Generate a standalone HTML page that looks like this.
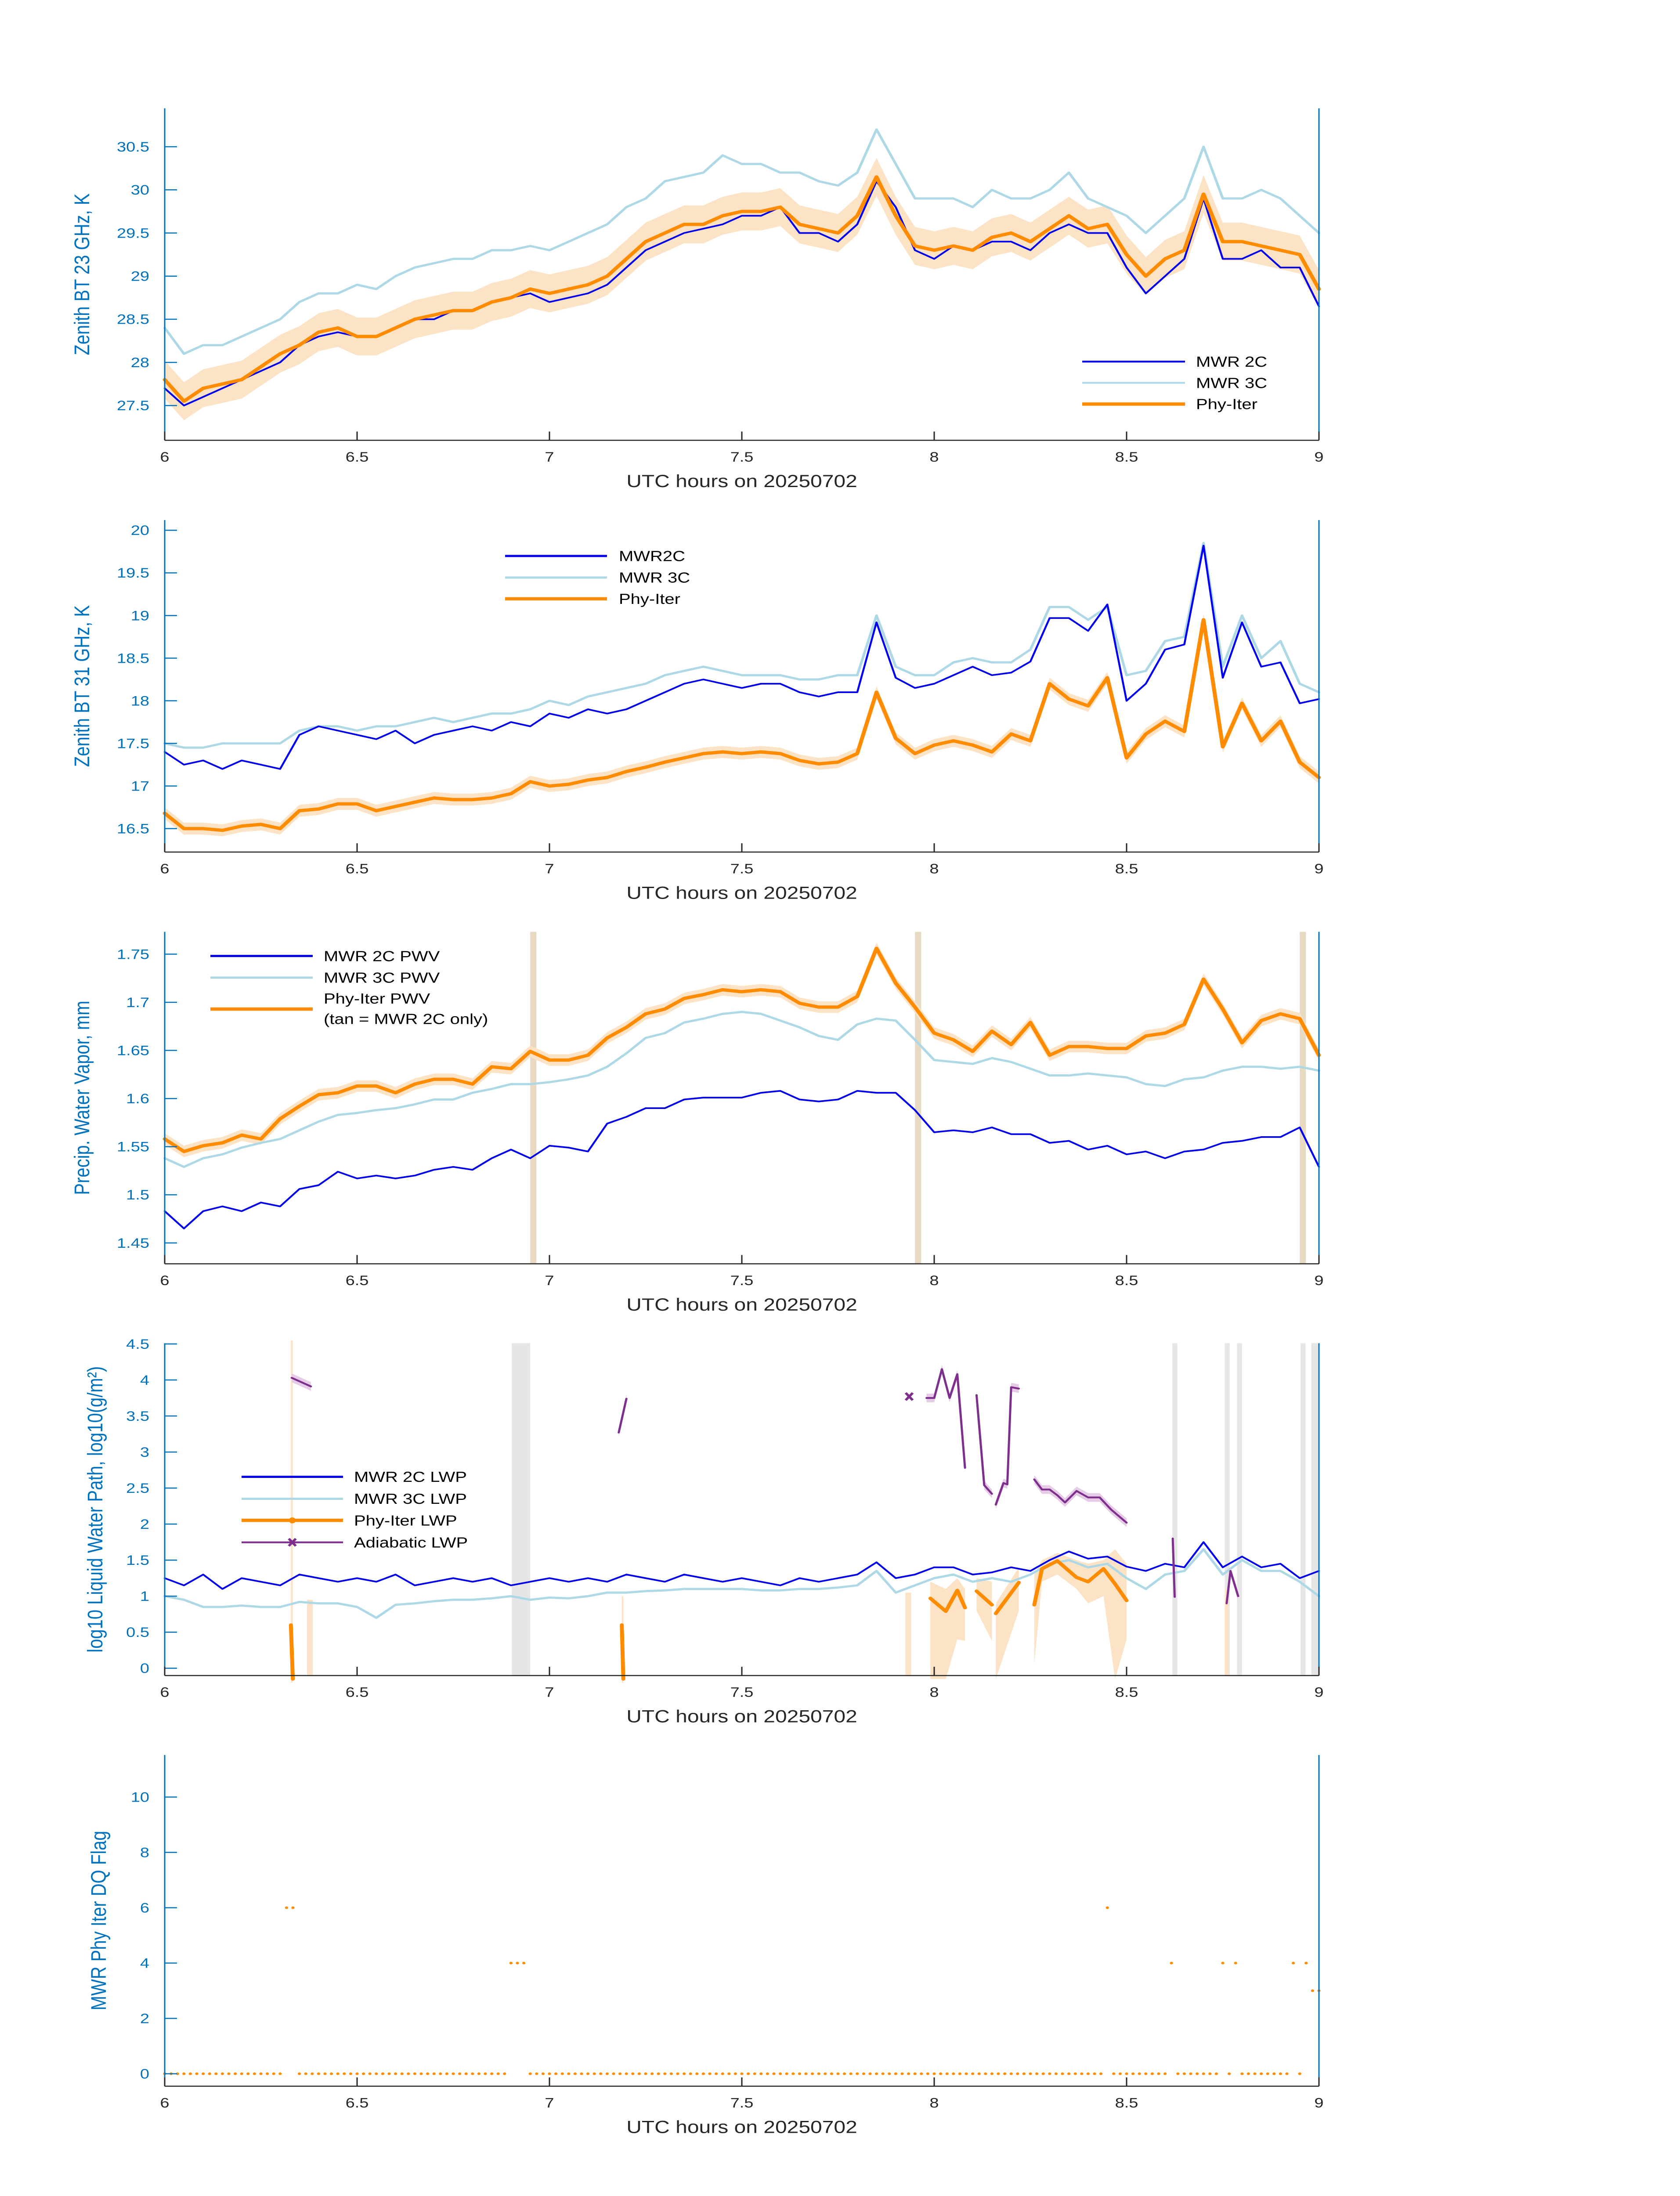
<!DOCTYPE html>
<html><head><meta charset="utf-8"><style>
html,body{margin:0;padding:0;background:#fff;width:100vw;height:100vh;overflow:hidden;}
svg{display:block;width:100vw;height:100vh;font-family:"Liberation Sans",sans-serif;}
</style></head><body>
<svg id="chart" xmlns="http://www.w3.org/2000/svg" viewBox="0 0 3825 6000" preserveAspectRatio="none">
<rect x="0" y="0" width="3825" height="6000" fill="#ffffff"/>
<g id="layer"></g>
</svg>
<script>
// ---------- shared data ----------
const xTicks = [6, 6.5, 7, 7.5, 8, 8.5, 9];
const xTickLabels = ["6", "6.5", "7", "7.5", "8", "8.5", "9"];

// Panel 1: 23 GHz BT
const bt23Mwr2c = [27.7,27.5,27.6,27.7,27.8,27.9,28.0,28.2,28.3,28.35,28.3,28.3,28.4,28.5,28.5,28.6,28.6,28.7,28.75,28.8,28.7,28.75,28.8,28.9,29.1,29.3,29.4,29.5,29.55,29.6,29.7,29.7,29.8,29.5,29.5,29.4,29.6,30.1,29.8,29.3,29.2,29.35,29.3,29.4,29.4,29.3,29.5,29.6,29.5,29.5,29.1,28.8,29.0,29.2,29.9,29.2,29.2,29.3,29.1,29.1,28.65];
const bt23Mwr3c = [28.4,28.1,28.2,28.2,28.3,28.4,28.5,28.7,28.8,28.8,28.9,28.85,29.0,29.1,29.15,29.2,29.2,29.3,29.3,29.35,29.3,29.4,29.5,29.6,29.8,29.9,30.1,30.15,30.2,30.4,30.3,30.3,30.2,30.2,30.1,30.05,30.2,30.7,30.3,29.9,29.9,29.9,29.8,30.0,29.9,29.9,30.0,30.2,29.9,29.8,29.7,29.5,29.7,29.9,30.5,29.9,29.9,30.0,29.9,29.7,29.5];
const bt23Phy = [27.8,27.55,27.7,27.75,27.8,27.95,28.1,28.2,28.35,28.4,28.3,28.3,28.4,28.5,28.55,28.6,28.6,28.7,28.75,28.85,28.8,28.85,28.9,29.0,29.2,29.4,29.5,29.6,29.6,29.7,29.75,29.75,29.8,29.6,29.55,29.5,29.7,30.15,29.7,29.35,29.3,29.35,29.3,29.45,29.5,29.4,29.55,29.7,29.55,29.6,29.25,29.0,29.2,29.3,29.95,29.4,29.4,29.35,29.3,29.25,28.85];
const bt23PhyUnc = 0.22;
const bt23Ticks = [27.5, 28, 28.5, 29, 29.5, 30, 30.5];
const bt23TickLabels = ["27.5","28","28.5","29","29.5","30","30.5"];

// Panel 2: 31 GHz BT
const bt31Mwr2c = [17.4,17.25,17.3,17.2,17.3,17.25,17.2,17.6,17.7,17.65,17.6,17.55,17.65,17.5,17.6,17.65,17.7,17.65,17.75,17.7,17.85,17.8,17.9,17.85,17.9,18.0,18.1,18.2,18.25,18.2,18.15,18.2,18.2,18.1,18.05,18.1,18.1,18.92,18.27,18.15,18.2,18.3,18.4,18.3,18.33,18.46,18.97,18.97,18.82,19.13,18.0,18.2,18.6,18.66,19.82,18.27,18.92,18.4,18.45,17.97,18.02];
const bt31Mwr3c = [17.5,17.45,17.45,17.5,17.5,17.5,17.5,17.65,17.7,17.7,17.65,17.7,17.7,17.75,17.8,17.75,17.8,17.85,17.85,17.9,18.0,17.95,18.05,18.1,18.15,18.2,18.3,18.35,18.4,18.35,18.3,18.3,18.3,18.25,18.25,18.3,18.3,19.0,18.4,18.3,18.3,18.45,18.5,18.45,18.45,18.6,19.1,19.1,18.95,19.1,18.3,18.35,18.7,18.75,19.85,18.4,19.0,18.5,18.7,18.2,18.1];
const bt31Phy = [16.68,16.5,16.5,16.48,16.53,16.55,16.5,16.71,16.73,16.79,16.79,16.71,16.76,16.81,16.86,16.84,16.84,16.86,16.91,17.05,17.0,17.02,17.07,17.1,17.17,17.22,17.28,17.33,17.38,17.4,17.38,17.4,17.38,17.3,17.26,17.28,17.38,18.1,17.56,17.38,17.48,17.53,17.48,17.4,17.61,17.53,18.2,18.02,17.94,18.27,17.33,17.61,17.76,17.64,18.95,17.46,17.97,17.53,17.76,17.28,17.1];
const bt31PhyUnc = 0.07;
const bt31Ticks = [16.5,17,17.5,18,18.5,19,19.5,20];
const bt31TickLabels = ["16.5","17","17.5","18","18.5","19","19.5","20"];

// Panel 3: PWV
const pwvMwr2c = [1.483,1.465,1.483,1.488,1.483,1.492,1.488,1.506,1.51,1.524,1.517,1.52,1.517,1.52,1.526,1.529,1.526,1.538,1.547,1.538,1.551,1.549,1.545,1.574,1.581,1.59,1.59,1.599,1.601,1.601,1.601,1.606,1.608,1.599,1.597,1.599,1.608,1.606,1.606,1.588,1.565,1.567,1.565,1.57,1.563,1.563,1.554,1.556,1.547,1.551,1.542,1.545,1.538,1.545,1.547,1.554,1.556,1.56,1.56,1.57,1.529];
const pwvMwr3c = [1.538,1.529,1.538,1.542,1.549,1.554,1.558,1.567,1.576,1.583,1.585,1.588,1.59,1.594,1.599,1.599,1.606,1.61,1.615,1.615,1.617,1.62,1.624,1.633,1.647,1.663,1.668,1.679,1.683,1.688,1.69,1.688,1.681,1.674,1.665,1.661,1.677,1.683,1.681,1.661,1.64,1.638,1.636,1.642,1.638,1.631,1.624,1.624,1.626,1.624,1.622,1.615,1.613,1.62,1.622,1.629,1.633,1.633,1.631,1.633,1.629];
const pwvPhy = [1.558,1.545,1.551,1.554,1.562,1.558,1.579,1.592,1.604,1.606,1.613,1.613,1.606,1.615,1.62,1.62,1.615,1.633,1.631,1.649,1.64,1.64,1.645,1.663,1.674,1.688,1.693,1.704,1.708,1.713,1.711,1.713,1.711,1.699,1.695,1.695,1.706,1.756,1.72,1.695,1.668,1.661,1.649,1.67,1.656,1.679,1.645,1.654,1.654,1.652,1.652,1.665,1.668,1.677,1.724,1.693,1.658,1.681,1.688,1.683,1.645];
const pwvPhyUnc = 0.006;
const pwvTanTimes = [6.958, 7.958, 8.958];
const pwvTicks = [1.45,1.5,1.55,1.6,1.65,1.7,1.75];
const pwvTickLabels = ["1.45","1.5","1.55","1.6","1.65","1.7","1.75"];

// Panel 4: LWP (log10)
const lwpMwr2c = [1.25,1.15,1.3,1.1,1.25,1.2,1.15,1.3,1.25,1.2,1.25,1.2,1.3,1.15,1.2,1.25,1.2,1.25,1.15,1.2,1.25,1.2,1.25,1.2,1.3,1.25,1.2,1.3,1.25,1.2,1.25,1.2,1.15,1.25,1.2,1.25,1.3,1.47,1.25,1.3,1.4,1.4,1.3,1.33,1.4,1.35,1.5,1.62,1.52,1.55,1.41,1.35,1.45,1.4,1.75,1.4,1.55,1.4,1.45,1.25,1.35];
const lwpMwr3c = [1.0,0.95,0.85,0.85,0.87,0.85,0.85,0.92,0.9,0.9,0.85,0.7,0.88,0.9,0.93,0.95,0.95,0.97,1.0,0.95,0.98,0.97,1.0,1.05,1.05,1.07,1.08,1.1,1.1,1.1,1.1,1.08,1.08,1.1,1.1,1.12,1.15,1.35,1.05,1.15,1.25,1.3,1.2,1.25,1.2,1.3,1.45,1.5,1.4,1.45,1.25,1.1,1.3,1.35,1.65,1.3,1.5,1.35,1.35,1.2,1.0];
const lwpPhyT = [6.328,6.333,6.4,7.188,7.192,7.3,7.99,8.03,8.06,8.08,8.095,8.11,8.15,8.155,8.16,8.22,8.24,8.26,8.28,8.32,8.37,8.40,8.44,8.47,8.50];
const lwpPhyV = [0.6,-0.15,null,0.6,-0.15,null,0.97,0.79,1.08,0.84,null,1.07,0.88,null,0.76,1.19,null,0.88,1.38,1.49,1.26,1.2,1.38,1.17,0.94];
const lwpPhyLo = [-0.2,-0.2,null,-0.2,-0.2,null,-0.15,-0.15,0.4,0.38,null,0.8,0.38,null,-0.15,0.8,null,0.05,1.2,1.3,1.1,0.9,1.0,-0.15,0.4];
const lwpPhyHi = [4.55,4.55,null,1.0,1.0,null,1.2,1.1,1.25,1.1,null,1.25,1.2,null,0.9,1.4,null,1.3,1.5,1.6,1.5,1.45,1.5,1.65,1.45];
const lwpStripT0 = [6.37, 7.925, 8.755];
const lwpStripT1 = [6.385, 7.94, 8.765];
const lwpStripHi = [0.95, 1.05, 1.1];
const lwpAdiT = [6.33,6.38,null,7.18,7.2,null,7.98,8.0,8.02,8.04,8.06,8.08,null,8.11,8.13,8.15,null,8.16,8.18,8.19,8.2,8.22,null,8.26,8.28,8.3,8.32,8.34,8.37,8.4,8.43,8.46,8.5,null,8.62,8.625,null,8.76,8.77,8.79];
const lwpAdiV = [4.03,3.91,null,3.27,3.74,null,3.75,3.75,4.15,3.75,4.08,2.78,null,3.79,2.54,2.42,null,2.27,2.57,2.55,3.9,3.88,null,2.62,2.48,2.48,2.4,2.3,2.46,2.37,2.37,2.2,2.02,null,1.8,0.99,null,0.9,1.35,1.0];
const lwpAdiMarkT = [7.935];
const lwpAdiMarkV = [3.77];
const lwpGrayT0 = [6.902, 8.619, 8.755, 8.787, 8.952, 8.98];
const lwpGrayT1 = [6.95, 8.632, 8.768, 8.8, 8.965, 9.0];
const lwpTicks = [0,0.5,1,1.5,2,2.5,3,3.5,4,4.5];
const lwpTickLabels = ["0","0.5","1","1.5","2","2.5","3","3.5","4","4.5"];

// Panel 5: DQ flag, one sample per minute 6:00..9:00, as runs (value, count of minutes)
const dqRunValues  = [0, 6, 0, 4, 0, 6, 0, 4, 0, 4, 0, 4, 0, 4, 0, 4, 3];
const dqRunLengths = [19, 2, 33, 3, 90, 1, 9, 1, 7, 1, 1, 1, 8, 1, 1, 1, 2];
const dqTicks = [0,2,4,6,8,10];
const dqTickLabels = ["0","2","4","6","8","10"];

// ---------- geometry ----------
const NS = "http://www.w3.org/2000/svg";
const layer = document.getElementById("layer");
const X0 = 375, X1 = 3003, XK = 876;
function sx(t){ return X0 + (t - 6) * XK; }
const panels = [
 {top:296, bot:1203, v0:27.5, p0:1108, k:-235.7},
 {top:1421, bot:2328, v0:16.5, p0:2264, k:-232.9},
 {top:2546, bot:3453, v0:1.45, p0:3396, k:-2630},
 {top:3670, bot:4578, v0:0, p0:4558, k:-196.9},
 {top:4795, bot:5700, v0:0, p0:5666, k:-75.6}
];
function syF(p){ return v => p.p0 + (v - p.v0) * p.k; }
function mk(tag, attrs){ const e=document.createElementNS(NS,tag); for(const a in attrs) e.setAttribute(a,attrs[a]); return e; }
const gridT = [];
for(let i=0;i<=60;i++) gridT.push(6 + i*0.05);

function lineD(ts, vs, sy){
  let d="", pen=false;
  for(let i=0;i<ts.length;i++){
    if(vs[i]===null || ts[i]===null){ pen=false; continue; }
    d += (pen?"L":"M") + sx(ts[i]).toFixed(1) + " " + sy(vs[i]).toFixed(1) + " ";
    pen=true;
  }
  return d;
}
function bandD(ts, lo, hi, sy){
  let segs=[], cur=[];
  for(let i=0;i<ts.length;i++){
    if(lo[i]===null||hi[i]===null){ if(cur.length) segs.push(cur); cur=[]; continue; }
    cur.push(i);
  }
  if(cur.length) segs.push(cur);
  let d="";
  segs.forEach(s=>{
    const a=s.map(i=>sx(ts[i]).toFixed(1)+" "+sy(hi[i]).toFixed(1));
    const b=s.slice().reverse().map(i=>sx(ts[i]).toFixed(1)+" "+sy(lo[i]).toFixed(1));
    d += "M"+a.join(" L")+" L"+b.join(" L")+" Z ";
  });
  return d;
}

function drawAxes(pi, ticks, labels, ylabel, ylabelX, name){
  const p=panels[pi], sy=syF(p);
  const g=mk("g",{});
  
  
  layer.appendChild(g);
  g.appendChild(mk("line",{x1:X0,y1:p.top,x2:X0,y2:p.bot,stroke:"#0072BD","stroke-width":3}));
  g.appendChild(mk("line",{x1:X1,y1:p.top,x2:X1,y2:p.bot,stroke:"#0072BD","stroke-width":3}));
  g.appendChild(mk("line",{x1:X0,y1:p.bot,x2:X1,y2:p.bot,stroke:"#262626","stroke-width":3}));
  ticks.forEach((v,i)=>{
    const y=sy(v);
    g.appendChild(mk("line",{x1:X0,y1:y,x2:X0+28,y2:y,stroke:"#0072BD","stroke-width":3}));
    const t=mk("text",{x:340,y:y+13,"text-anchor":"end","font-size":38,fill:"#0072BD"});
    t.textContent=labels[i];
    
    
    g.appendChild(t);
  });
  xTicks.forEach((v,i)=>{
    const x=sx(v);
    g.appendChild(mk("line",{x1:x,y1:p.bot,x2:x,y2:p.bot-24,stroke:"#262626","stroke-width":3}));
    const t=mk("text",{x:x,y:p.bot+58,"text-anchor":"middle","font-size":38,fill:"#262626"});
    t.textContent=xTickLabels[i];
    
    
    g.appendChild(t);
  });
  const xl=mk("text",{x:(X0+X1)/2,y:p.bot+128,"text-anchor":"middle","font-size":48,fill:"#262626"});
  xl.textContent="UTC hours on 20250702";
  
  
  g.appendChild(xl);
  const cy=(p.top+p.bot)/2;
  const yl=mk("text",{x:ylabelX,y:cy,"text-anchor":"middle","font-size":48,fill:"#0072BD",transform:"rotate(-90 "+ylabelX+" "+cy+")"});
  yl.textContent=ylabel;
  
  
  g.appendChild(yl);
}
function addPath(d, attrs, name){
  const e=mk("path",Object.assign({d:d,fill:"none","stroke-linejoin":"round","stroke-linecap":"round"},attrs));
  
  
  layer.appendChild(e);
  return e;
}
function legend(items, x0, x1, tx, fs){
  items.forEach(it=>{
    const g=mk("g",{});
    
    
    g.appendChild(mk("line",{x1:x0,y1:it.y,x2:x1,y2:it.y,stroke:it.c,"stroke-width":it.w}));
    if(it.m==="o") g.appendChild(mk("circle",{cx:(x0+x1)/2,cy:it.y,r:8,fill:it.c}));
    if(it.m==="x"){ const cx=(x0+x1)/2; g.appendChild(mk("path",{d:"M"+(cx-8)+" "+(it.y-10)+"L"+(cx+8)+" "+(it.y+10)+"M"+(cx+8)+" "+(it.y-10)+"L"+(cx-8)+" "+(it.y+10),stroke:it.c,"stroke-width":6})); }
    if(it.t){
      const t=mk("text",{x:tx,y:(it.ty!==undefined?it.ty:it.y+14),"font-size":fs,fill:"#000"});
      t.textContent=it.t;
      g.appendChild(t);
    }
    layer.appendChild(g);
  });
}
function uncLoHi(vals, u){ return [vals.map(v=>v-u), vals.map(v=>v+u)]; }

// ---------- Panel 1 ----------
(function(){
  const sy=syF(panels[0]);
  const [lo,hi]=uncLoHi(bt23Phy, bt23PhyUnc);
  addPath(bandD(gridT,lo,hi,sy),{fill:"#fde3c6",stroke:"none"},"bt23-phy-uncertainty");
  addPath(lineD(gridT,bt23Mwr3c,sy),{stroke:"#add8e6","stroke-width":6},"bt23-mwr3c-line");
  addPath(lineD(gridT,bt23Mwr2c,sy),{stroke:"#0000ee","stroke-width":4.5},"bt23-mwr2c-line");
  addPath(lineD(gridT,bt23Phy,sy),{stroke:"#ff8c00","stroke-width":9},"bt23-phy-line");
  drawAxes(0,bt23Ticks,bt23TickLabels,"Zenith BT 23 GHz, K",203,"bt23");
  legend([{y:988,c:"#0000ee",w:5,t:"MWR 2C"},{y:1046,c:"#add8e6",w:5,t:"MWR 3C"},{y:1104,c:"#ff8c00",w:9,t:"Phy-Iter"}],2464,2698,2723,40);
})();
// ---------- Panel 2 ----------
(function(){
  const sy=syF(panels[1]);
  const [lo,hi]=uncLoHi(bt31Phy, bt31PhyUnc);
  addPath(bandD(gridT,lo,hi,sy),{fill:"#fde3c6",stroke:"none"},"bt31-phy-uncertainty");
  addPath(lineD(gridT,bt31Mwr3c,sy),{stroke:"#add8e6","stroke-width":6},"bt31-mwr3c-line");
  addPath(lineD(gridT,bt31Mwr2c,sy),{stroke:"#0000ee","stroke-width":4.5},"bt31-mwr2c-line");
  addPath(lineD(gridT,bt31Phy,sy),{stroke:"#ff8c00","stroke-width":9},"bt31-phy-line");
  drawAxes(1,bt31Ticks,bt31TickLabels,"Zenith BT 31 GHz, K",203,"bt31");
  legend([{y:1519,c:"#0000ee",w:6,t:"MWR2C"},{y:1578,c:"#add8e6",w:6,t:"MWR 3C"},{y:1636,c:"#ff8c00",w:9,t:"Phy-Iter"}],1150,1382,1409,40);
})();
// ---------- Panel 3 ----------
(function(){
  const p=panels[2], sy=syF(p);
  pwvTanTimes.forEach(t=>{
    const r=mk("rect",{x:sx(t)-7,y:p.top,width:14,height:p.bot-p.top,fill:"#e8d9c2"});
    
    
    layer.appendChild(r);
  });
  const [lo,hi]=uncLoHi(pwvPhy, pwvPhyUnc);
  addPath(bandD(gridT,lo,hi,sy),{fill:"#fde3c6",stroke:"none"},"pwv-phy-uncertainty");
  addPath(lineD(gridT,pwvMwr3c,sy),{stroke:"#add8e6","stroke-width":6},"pwv-mwr3c-line");
  addPath(lineD(gridT,pwvMwr2c,sy),{stroke:"#0000ee","stroke-width":4.5},"pwv-mwr2c-line");
  addPath(lineD(gridT,pwvPhy,sy),{stroke:"#ff8c00","stroke-width":9},"pwv-phy-line");
  drawAxes(2,pwvTicks,pwvTickLabels,"Precip. Water Vapor, mm",203,"pwv");
  legend([{y:2612,c:"#0000ee",w:6,t:"MWR 2C PWV"},{y:2671,c:"#add8e6",w:6,t:"MWR 3C PWV"},{y:2757,c:"#ff8c00",w:9,t:"Phy-Iter PWV",ty:2742}],479,712,737,40);
  const t=mk("text",{x:737,y:2798,"font-size":40,fill:"#000"});
  t.textContent="(tan = MWR 2C only)";
  
  
  layer.appendChild(t);
})();
// ---------- Panel 4 ----------
(function(){
  const p=panels[3], sy=syF(p);
  lwpGrayT0.forEach((t,i)=>{
    const r=mk("rect",{x:sx(t),y:p.top,width:Math.max(sx(lwpGrayT1[i])-sx(t),10),height:p.bot-p.top,fill:"#e6e6e6"});
    
    
    layer.appendChild(r);
  });
  addPath(bandD(lwpPhyT,lwpPhyLo,lwpPhyHi,sy),{fill:"#fde3c6",stroke:"none"},"lwp-phy-uncertainty");
  lwpStripT0.forEach((t,i)=>{
    const r=mk("rect",{x:sx(t),y:sy(lwpStripHi[i]),width:sx(lwpStripT1[i])-sx(t),height:p.bot-sy(lwpStripHi[i]),fill:"#fde3c6"});
    
    
    layer.appendChild(r);
  });
  addPath(lineD(gridT,lwpMwr3c,sy),{stroke:"#add8e6","stroke-width":6},"lwp-mwr3c-line");
  addPath(lineD(gridT,lwpMwr2c,sy),{stroke:"#0000ee","stroke-width":4.5},"lwp-mwr2c-line");
  addPath(lineD(lwpPhyT,lwpPhyV,sy),{stroke:"#ff8c00","stroke-width":9},"lwp-phy-line");
  const adiLo=lwpAdiV.map(v=>v===null?null:v-0.06), adiHi=lwpAdiV.map(v=>v===null?null:v+0.06);
  addPath(bandD(lwpAdiT,adiLo,adiHi,sy),{fill:"#e5cbe6",stroke:"none"},"lwp-adiabatic-uncertainty");
  addPath(lineD(lwpAdiT,lwpAdiV,sy),{stroke:"#7e2f8e","stroke-width":5},"lwp-adiabatic-line");
  lwpAdiMarkT.forEach((t,i)=>{
    const cx=sx(t), cy=sy(lwpAdiMarkV[i]);
    const m=mk("path",{d:"M"+(cx-8)+" "+(cy-10)+"L"+(cx+8)+" "+(cy+10)+"M"+(cx+8)+" "+(cy-10)+"L"+(cx-8)+" "+(cy+10),stroke:"#7e2f8e","stroke-width":6});
    
    
    layer.appendChild(m);
  });
  drawAxes(3,lwpTicks,lwpTickLabels,"log10 Liquid Water Path, log10(g/m²)",233,"lwp");
  legend([{y:4035,c:"#0000ee",w:6,t:"MWR 2C LWP"},{y:4095,c:"#add8e6",w:6,t:"MWR 3C LWP"},{y:4154,c:"#ff8c00",w:9,t:"Phy-Iter LWP",m:"o"},{y:4214,c:"#7e2f8e",w:5,t:"Adiabatic LWP",m:"x"}],550,781,806,40);
})();
// ---------- Panel 5 ----------
(function(){
  const sy=syF(panels[4]);
  let minute=0;
  dqRunValues.forEach((f,r)=>{
    for(let j=0;j<dqRunLengths[r];j++){
      const c=mk("circle",{cx:sx(6+minute/60),cy:sy(f),r:3.6,fill:"#ff8c00"});
      
      
      layer.appendChild(c);
      minute++;
    }
  });
  drawAxes(4,dqTicks,dqTickLabels,"MWR Phy Iter DQ Flag",241,"dq");
})();
</script>
</body></html>
